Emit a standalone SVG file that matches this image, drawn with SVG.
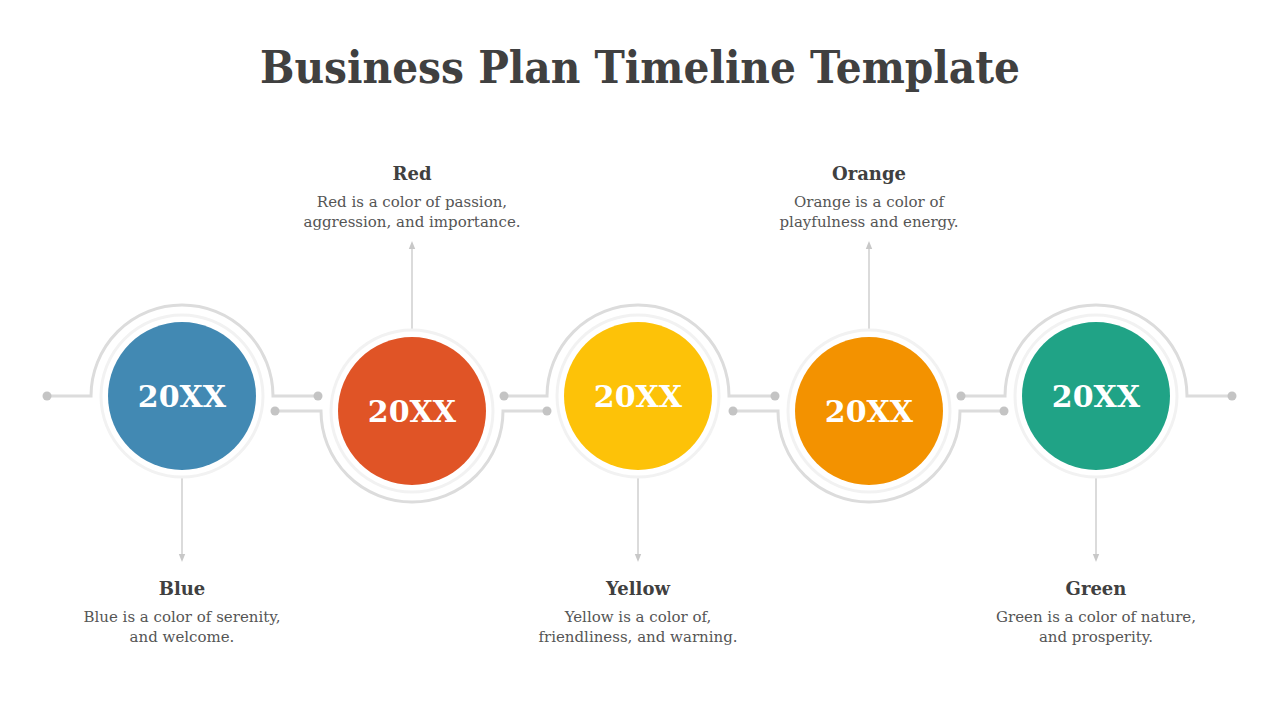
<svg xmlns="http://www.w3.org/2000/svg" width="1280" height="720" viewBox="0 0 1280 720">
<defs>
<marker id="ah" viewBox="0 0 10 10" refX="5" refY="5" markerWidth="8" markerHeight="8" orient="auto-start-reverse" markerUnits="userSpaceOnUse"><path d="M0,1 L10,5 L0,9 z" fill="#c8c8c8"/></marker>
<style>
.track{fill:none;stroke:#dcdcdc;stroke-width:3}
.dot{fill:#c4c4c4}
.halo{fill:#fff;stroke:#f2f2f2;stroke-width:3}
.arr{stroke:#cfcfcf;stroke-width:1.5;marker-end:url(#ah)}
.yr{font-family:"DejaVu Serif","Liberation Serif",serif;font-weight:bold;font-size:30px;fill:#fff;text-anchor:middle}
.h{font-family:"DejaVu Serif","Liberation Serif",serif;font-weight:bold;font-size:18px;fill:#404040;text-anchor:middle}
.b{font-family:"DejaVu Serif","Liberation Serif",serif;font-size:15px;fill:#555;text-anchor:middle}
</style>
</defs>
<rect width="1280" height="720" fill="#fff"/>
<text x="640" y="83" text-anchor="middle" font-family="DejaVu Serif, Liberation Serif, serif" font-weight="bold" font-size="44" fill="#404040" textLength="760" lengthAdjust="spacingAndGlyphs">Business Plan Timeline Template</text>
<g id="connectors">
<path class="track" d="M47,396 H91 A91,91 0 0 1 273,396 H318"/>
<path class="track" d="M275,411 H321 A91,91 0 0 0 503,411 H547"/>
<path class="track" d="M504,396 H547 A91,91 0 0 1 729,396 H775"/>
<path class="track" d="M733,411 H778 A91,91 0 0 0 960,411 H1004"/>
<path class="track" d="M961,396 H1005 A91,91 0 0 1 1187,396 H1232"/>
<g class="dot">
<circle cx="47" cy="396" r="4.5"/><circle cx="318" cy="396" r="4.5"/>
<circle cx="275" cy="411" r="4.5"/><circle cx="547" cy="411" r="4.5"/>
<circle cx="504" cy="396" r="4.5"/><circle cx="775" cy="396" r="4.5"/>
<circle cx="733" cy="411" r="4.5"/><circle cx="1004" cy="411" r="4.5"/>
<circle cx="961" cy="396" r="4.5"/><circle cx="1232" cy="396" r="4.5"/>
</g>
<line class="arr" x1="182" y1="470" x2="182" y2="558"/>
<line class="arr" x1="412" y1="332" x2="412" y2="245"/>
<line class="arr" x1="638" y1="470" x2="638" y2="558"/>
<line class="arr" x1="869" y1="332" x2="869" y2="245"/>
<line class="arr" x1="1096" y1="470" x2="1096" y2="558"/>
</g>
<g id="node-blue"><circle class="halo" cx="182" cy="396" r="81"/><circle cx="182" cy="396" r="74" fill="#4289b3"/><text class="yr" x="182" y="407">20XX</text>
<text class="h" x="182" y="595">Blue</text><text class="b" x="182" y="622">Blue is a color of serenity,</text><text class="b" x="182" y="642">and welcome.</text></g>
<g id="node-red"><circle class="halo" cx="412" cy="411" r="81"/><circle cx="412" cy="411" r="74" fill="#e05426"/><text class="yr" x="412" y="422">20XX</text>
<text class="h" x="412" y="180">Red</text><text class="b" x="412" y="207">Red is a color of passion,</text><text class="b" x="412" y="227">aggression, and importance.</text></g>
<g id="node-yellow"><circle class="halo" cx="638" cy="396" r="81"/><circle cx="638" cy="396" r="74" fill="#fdc208"/><text class="yr" x="638" y="407">20XX</text>
<text class="h" x="638" y="595">Yellow</text><text class="b" x="638" y="622">Yellow is a color of,</text><text class="b" x="638" y="642">friendliness, and warning.</text></g>
<g id="node-orange"><circle class="halo" cx="869" cy="411" r="81"/><circle cx="869" cy="411" r="74" fill="#f39200"/><text class="yr" x="869" y="422">20XX</text>
<text class="h" x="869" y="180">Orange</text><text class="b" x="869" y="207">Orange is a color of</text><text class="b" x="869" y="227">playfulness and energy.</text></g>
<g id="node-green"><circle class="halo" cx="1096" cy="396" r="81"/><circle cx="1096" cy="396" r="74" fill="#20a386"/><text class="yr" x="1096" y="407">20XX</text>
<text class="h" x="1096" y="595">Green</text><text class="b" x="1096" y="622">Green is a color of nature,</text><text class="b" x="1096" y="642">and prosperity.</text></g>
</svg>
